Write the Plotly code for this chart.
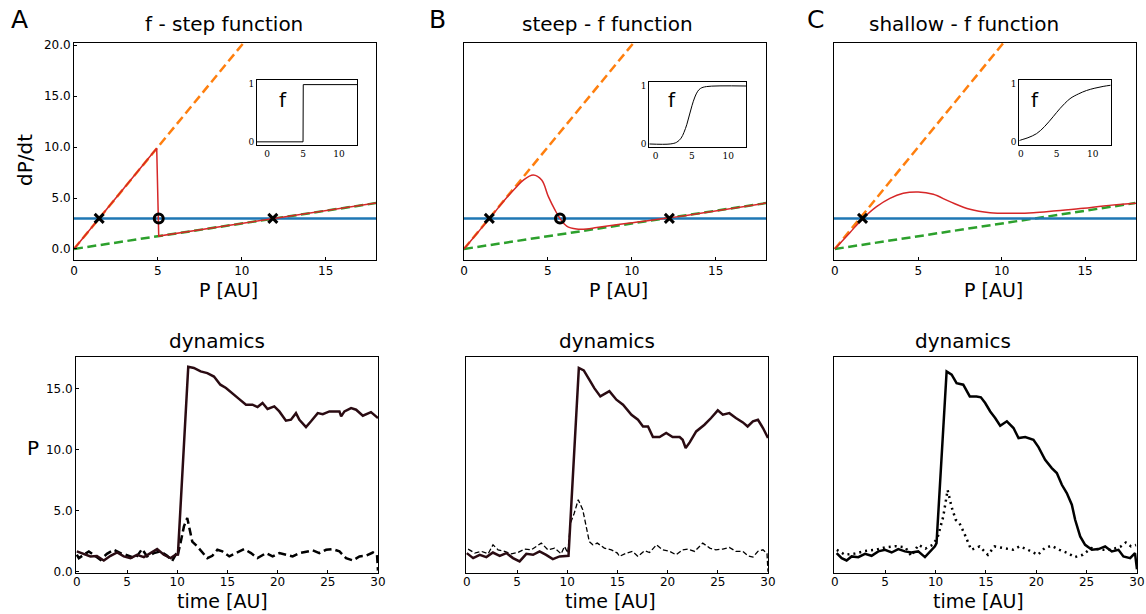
import plotly.graph_objects as go

# ---------------- data ----------------
# top row: phase-line panels, P [AU] vs dP/dt
orange_P = [0, 11]
orange_y = [0, 22]
green_P = [0, 18]
green_y = [0, 4.5]
blue_P = [-0.5, 18.5]
blue_y = [3, 3]

redA_P = [0, 4.93, 5.05, 18]
redA_y = [0, 9.87, 1.27, 4.5]
redB_P = [0, 1.55, 2.5, 3.14, 3.54, 4.13, 4.63, 5.03, 5.42, 5.72, 6.12, 6.71, 7.31, 7.91, 9.9, 12.24, 18]
redB_y = [0, 3.05, 4.95, 6.1, 6.76, 7.25, 6.76, 5.13, 3.83, 3.0, 2.25, 1.96, 1.96, 2.1, 2.55, 3.06, 4.5]
redC_P = [0, 0.9, 1.66, 2.5, 3.3, 4.1, 5.0, 5.9, 6.9, 8.1, 9.3, 10.5, 11.9, 13.3, 14.9, 16.1, 18.05]
redC_y = [0, 1.6, 2.95, 4.15, 4.97, 5.46, 5.59, 5.36, 4.64, 3.89, 3.56, 3.5, 3.56, 3.76, 3.99, 4.22, 4.48]

stableA_P = [1.5, 11.85]
unstableA_P = [5.05]
stableB_P = [1.51, 12.24]
unstableB_P = [5.72]
stableC_P = [1.66]
fixed_y = 3

# insets: f(P)
fA_P = [-1.4, 5.0, 5.03, 12.5]
fA_v = [0, 0, 0.99, 0.99]
fB_P = [-0.88, 2.0, 2.9, 3.5, 3.9, 4.3, 4.65, 5.0, 5.4, 5.8, 6.2, 7.0, 12.45]
fB_v = [0, 0, 0.03, 0.1, 0.2, 0.34, 0.5, 0.66, 0.81, 0.91, 0.96, 0.99, 1.0]
fC_P = [-0.2, 0, 1, 2.2, 3.3, 4.5, 5.45, 6.85, 8.0, 9.15, 10.3, 11.45, 12.5]
fC_v = [0.02, 0.03, 0.07, 0.14, 0.26, 0.43, 0.57, 0.74, 0.82, 0.88, 0.92, 0.95, 0.97]

# bottom row: dynamics, time [AU] vs P
dynA_t = [0, 0.7, 1.36, 2.0, 2.69, 3.36, 4.02, 4.68, 5.35, 6.0, 6.68, 7.34, 8.0, 8.67, 9.34, 9.84,
          10.07, 11.1, 11.66, 12.33, 13.0, 13.66, 14.3, 14.86, 15.52, 16.18, 16.85, 17.5, 18.0, 18.5,
          19.0, 19.67, 20.17, 20.83, 21.33, 21.83, 22.17, 22.83, 23.33, 24.0, 24.5, 25.16, 26.16,
          26.33, 26.66, 27.32, 27.82, 28.49, 29.3, 30.0]
dynA_P = [1.67, 1.48, 1.26, 1.3, 0.93, 1.31, 1.58, 1.26, 1.12, 1.39, 1.2, 1.53, 1.86, 1.39, 1.12, 1.39,
          1.4, 16.8, 16.7, 16.42, 16.28, 16.0, 15.33, 15.06, 14.64, 14.15, 13.69, 13.69, 13.5, 13.83,
          13.34, 13.55, 13.14, 12.38, 12.46, 13.0, 12.46, 11.86, 12.33, 13.0, 12.92, 13.14, 13.14,
          12.73, 13.14, 13.41, 13.28, 12.79, 13.08, 12.6]
dynA2_t = [0, 0.2, 1.2, 2.36, 3.0, 3.69, 4.35, 5.18, 5.85, 6.5, 7.0, 7.68, 8.34, 9.0, 9.5, 9.84,
           10.0, 10.33, 10.67, 11.0, 11.27, 11.5, 12.0, 12.5, 13.0, 13.5, 14.0, 14.5, 15.0,
           15.19, 15.85, 16.68, 17.35, 18.0, 18.85, 19.5, 20.17, 21.0, 21.5, 22.17, 22.83, 23.5,
           24.16, 24.83, 25.5, 26.16, 26.82, 27.5, 28.15, 28.8, 29.5, 29.9, 30.0]
dynA2_P = [1.4, 1.12, 1.67, 0.98, 1.47, 1.8, 1.53, 1.31, 1.12, 1.86, 1.26, 1.53, 1.67, 1.31, 0.9, 1.39,
           1.2, 2.35, 3.72, 4.4, 3.44, 2.48, 2.07, 1.58, 1.12, 1.31, 1.8, 1.67, 1.39,
           1.26, 1.53, 1.86, 1.53, 1.12, 1.53, 1.26, 1.53, 1.39, 1.26, 1.53, 1.67, 1.75,
           1.53, 1.8, 1.86, 1.67, 1.12, 0.93, 1.26, 1.31, 1.58, 1.4, 0.1]

dynB_t = [0, 0.63, 1.29, 1.95, 2.6, 3.28, 3.94, 4.6, 5.26, 5.93, 6.6, 7.25, 7.9, 8.57, 9.24, 9.9,
          10.13, 11.16, 11.65, 12.2, 12.7, 13.3, 14.2, 14.9, 15.56, 16.4, 17.05, 17.55, 18.05, 18.54,
          19.2, 19.86, 20.5, 21.2, 21.5, 21.8, 22.2, 22.85, 23.67, 24.33, 25.0, 25.5, 26.15, 26.8,
          27.5, 27.97, 28.5, 29.0, 29.5, 30.0]
dynB_P = [1.53, 1.12, 1.39, 1.2, 1.58, 1.31, 1.53, 1.12, 0.85, 1.47, 1.39, 1.67, 1.39, 1.04, 1.26, 1.26,
          1.31, 16.7, 16.5, 15.74, 15.05, 14.37, 14.8, 14.1, 13.69, 12.87, 12.46, 11.91, 11.91, 11.04,
          11.04, 11.37, 11.04, 11.04, 10.82, 10.14, 10.6, 11.5, 12.05, 12.6, 13.23, 12.87, 13.0, 12.6,
          12.24, 11.91, 12.33, 12.46, 11.78, 10.96]
dynB2_t = [0.13, 0.79, 1.46, 2.12, 2.61, 3.11, 3.77, 4.44, 5.1, 5.76, 6.42, 7.42, 8.08, 8.74, 9.4, 9.73,
           10.06, 10.33, 10.7, 11.1, 11.55, 11.9, 12.2, 12.55, 13.0, 13.7, 14.4, 15.0,
           15.2, 15.9, 16.5, 17.05, 17.7, 18.2, 18.9, 19.5, 20.2, 20.85, 21.5, 22.0, 22.7, 23.5,
           24.2, 24.8, 25.5, 26.15, 26.8, 27.5, 28.0, 28.5, 29.0, 29.5, 29.9, 30.0]
dynB2_P = [1.86, 1.53, 1.67, 1.47, 2.21, 1.8, 1.67, 1.47, 1.58, 1.86, 1.8, 2.35, 1.8, 1.94, 1.47, 2.08,
           1.53, 4.0, 4.8, 5.9, 5.08, 3.72, 2.48, 2.21, 2.35, 1.94, 1.8, 1.53,
           1.26, 1.53, 1.67, 1.26, 1.72, 1.58, 2.21, 1.8, 1.67, 1.39, 1.8, 1.86, 1.67, 2.35,
           1.94, 1.8, 1.86, 2.0, 1.67, 1.67, 1.31, 1.2, 1.67, 1.8, 1.5, 0.0]

dynC_t = [0.18, 0.68, 1.17, 1.67, 2.33, 3.0, 3.65, 4.32, 4.98, 5.64, 6.3, 6.96, 7.6, 8.28, 8.95, 9.44,
          9.94, 10.1, 11.1, 11.6, 12.09, 12.75, 13.4, 14.07, 14.5, 14.93, 15.43, 15.92, 16.42, 17.08,
          17.74, 18.24, 18.9, 19.72, 20.22, 20.88, 21.54, 22.04, 22.54, 23.03, 23.53, 23.86, 24.36,
          24.85, 25.52, 26.18, 26.84, 27.5, 28.16, 28.65, 29.32, 29.8, 30.0]
dynC_P = [1.53, 1.12, 0.93, 1.26, 1.2, 1.47, 1.31, 1.67, 1.8, 1.58, 1.86, 1.67, 1.58, 1.67, 1.2, 1.67,
          2.08, 2.35, 16.42, 16.15, 15.46, 15.33, 14.37, 14.37, 14.3, 13.83, 13.14, 12.6, 11.97, 12.33,
          11.78, 10.96, 11.04, 10.82, 10.22, 9.18, 8.5, 8.09, 7.13, 6.45, 5.5, 4.26, 2.9,
          2.21, 1.8, 1.86, 2.08, 1.67, 1.8, 1.26, 1.12, 1.53, 0.2]
dynC2_t = [0.2, 1.0, 2.0, 3.0, 4.0, 5.0, 6.0, 7.0, 7.6, 8.3, 9.0, 9.7, 10.2, 10.76, 11.2, 11.6, 12.0,
           12.38, 12.88, 13.54, 14.37, 15.2, 15.86, 16.85, 17.7, 18.35, 19.17, 20.16, 20.83, 21.5,
           22.3, 23.13, 23.8, 24.62, 25.45, 26.44, 27.43, 28.4, 28.9, 29.4, 29.9]
dynC2_P = [1.8, 1.4, 1.5, 1.7, 1.8, 2.0, 2.1, 2.0, 1.3, 2.2, 1.9, 2.2, 2.8, 4.5, 6.7, 5.3, 4.26,
           3.98, 3.1, 1.8, 2.08, 1.39, 2.08, 1.94, 1.8, 2.08, 1.8, 1.39, 1.94, 2.13,
           1.8, 1.53, 1.2, 1.39, 1.94, 1.8, 1.8, 2.08, 2.4, 2.08, 2.2]

top_titles = ["f - step function", "steep - f function", "shallow - f function"]
panel_letters = ["A", "B", "C"]
top_xticks = [0, 5, 10, 15]
top_yticks = [0, 5, 10, 15, 20]
bot_xticks = [0, 5, 10, 15, 20, 25, 30]
bot_yticks = [0, 5, 10, 15]
inset_xticks = [0, 5, 10]
inset_yticks = [0, 1]

# ---------------- layout helpers ----------------
W, H = 1146, 614
FONT = "DejaVu Sans"
ORANGE, GREEN, BLUE, RED = "#ff7f0e", "#2ca02c", "#1f77b4", "#d62728"
MAROON = "#2a0b12"


def fx(p):
    return p / W


def fy(p):
    return 1 - p / H


fig = go.Figure()


def line(x, y, ax, color, width, dash="solid", shape="linear"):
    fig.add_trace(go.Scatter(x=x, y=y, mode="lines", xaxis="x" + ax, yaxis="y" + ax,
                             line=dict(color=color, width=width, dash=dash, shape=shape),
                             hoverinfo="skip", showlegend=False))


def marks(x, y, ax, symbol):
    fig.add_trace(go.Scatter(x=x, y=y, mode="markers", xaxis="x" + ax, yaxis="y" + ax,
                             marker=dict(symbol=symbol, size=9, color="black",
                                         line=dict(color="black", width=3)),
                             hoverinfo="skip", showlegend=False))


dash_main = "9px,4.5px"

# top panels
tops = [("1", redA_P, redA_y, "linear", stableA_P, unstableA_P),
        ("2", redB_P, redB_y, "spline", stableB_P, unstableB_P),
        ("3", redC_P, redC_y, "spline", stableC_P, [])]
for ax, rp, ry, shp, st, un in tops:
    line(orange_P, orange_y, ax, ORANGE, 2.5, dash_main)
    line(green_P, green_y, ax, GREEN, 2.5, dash_main)
    line(blue_P, blue_y, ax, BLUE, 2.5)
    line(rp, ry, ax, RED, 1.5, shape=shp)
    marks(st, [fixed_y] * len(st), ax, "x-thin-open")
    if un:
        marks(un, [fixed_y] * len(un), ax, "circle-open")

# bottom panels
line(dynA2_t, dynA2_P, "4", "black", 2.5, "8px,4px")
line(dynA_t, dynA_P, "4", MAROON, 2.5)
line(dynB2_t, dynB2_P, "5", "black", 1.3, "5px,2.5px")
line(dynB_t, dynB_P, "5", MAROON, 2.5)
line(dynC2_t, dynC2_P, "6", "black", 2.5, "2px,4px")
line(dynC_t, dynC_P, "6", "black", 2.5)

# insets
line(fA_P, fA_v, "7", "black", 1)
line(fB_P, fB_v, "8", "black", 1, shape="spline")
line(fC_P, fC_v, "9", "black", 1, shape="spline")

# ---------------- axes ----------------
tickfont = dict(family=FONT, size=12, color="black")


def xax(domain, rng, anchor, ticks=None, show=True, inset=False, standoff=0):
    d = dict(domain=domain, range=rng, anchor=anchor, showgrid=False, zeroline=False,
             showline=True, linecolor="black", linewidth=1, mirror=True,
             fixedrange=True, automargin=False)
    if inset:
        d.update(tickvals=ticks, ticks="", showticklabels=True,
                 tickfont=dict(family="DejaVu Serif", size=9, color="black"))
    else:
        d.update(tickvals=ticks, ticks="inside" if ticks else "", ticklen=3, tickcolor="black",
                 showticklabels=show, tickfont=tickfont, ticklabelstandoff=standoff)
    return d


def yax(domain, rng, anchor, ticks=None, show=True, inset=False, fmt=".1f"):
    d = dict(domain=domain, range=rng, anchor=anchor, showgrid=False, zeroline=False,
             showline=True, linecolor="black", linewidth=1, mirror=True,
             fixedrange=True, automargin=False)
    if inset:
        d.update(tickvals=ticks, ticks="", showticklabels=True,
                 tickfont=dict(family="DejaVu Serif", size=9, color="black"))
    else:
        d.update(tickvals=ticks, ticks="inside" if ticks else "", ticklen=3, tickcolor="black",
                 showticklabels=show, tickfont=tickfont, tickformat=fmt)
    return d


top_y = [fy(260), fy(43)]
bot_y = [fy(573), fy(357)]
top_yr = [-1.08, 20.2]
bot_yr = [-0.1, 17.6]

layout = dict(
    width=W, height=H, margin=dict(l=0, r=0, t=0, b=0, autoexpand=False),
    paper_bgcolor="white", plot_bgcolor="white", showlegend=False,
    font=dict(family=FONT, color="black"),
    xaxis=xax([fx(74), fx(376)], [0, 18], "y", top_xticks),
    yaxis=yax(top_y, top_yr, "x", top_yticks),
    xaxis2=xax([fx(464), fx(766)], [0, 18], "y2", top_xticks),
    yaxis2=yax(top_y, top_yr, "x2", None, False),
    xaxis3=xax([fx(834), fx(1136)], [-0.05, 18.05], "y3", top_xticks),
    yaxis3=yax(top_y, top_yr, "x3", None, False),
    xaxis4=xax([fx(76), fx(378)], [-0.08, 30], "y4", bot_xticks, standoff=-2),
    yaxis4=yax(bot_y, bot_yr, "x4", bot_yticks),
    xaxis5=xax([fx(466), fx(768)], [-0.08, 30], "y5", bot_xticks, standoff=-2),
    yaxis5=yax(bot_y, bot_yr, "x5", None, False),
    xaxis6=xax([fx(834), fx(1137)], [-0.08, 30], "y6", bot_xticks, standoff=-2),
    yaxis6=yax(bot_y, bot_yr, "x6", None, False),
    xaxis7=xax([fx(257), fx(357)], [-1.4, 12.5], "y7", inset_xticks, inset=True),
    yaxis7=yax([fy(145.3), fy(80)], [-0.06, 1.07], "x7", inset_yticks, inset=True),
    xaxis8=xax([fx(649.3), fx(746)], [-0.88, 12.45], "y8", inset_xticks, inset=True),
    yaxis8=yax([fy(146.7), fy(82.3)], [-0.047, 1.064], "x8", inset_yticks, inset=True),
    xaxis9=xax([fx(1019.3), fx(1110.7)], [-0.2, 12.5], "y9", inset_xticks, inset=True),
    yaxis9=yax([fy(145.3), fy(80)], [-0.06, 1.06], "x9", inset_yticks, inset=True),
)

ann = []


def txt(s, x, y, size=20, angle=0, family=FONT):
    ann.append(dict(text=s, x=fx(x), y=fy(y), xref="paper", yref="paper",
                    xanchor="center", yanchor="middle", showarrow=False, textangle=angle,
                    font=dict(family=family, size=size, color="black")))


for s, x in zip(panel_letters, [19, 437, 815]):
    txt(s, x, 19, 25)
for s, x in zip(top_titles, [224, 607, 964]):
    txt(s, x, 24, 20)
for x in [217, 607, 963]:
    txt("dynamics", x, 341, 20)
for x in [228, 618, 993]:
    txt("P [AU]", x, 290, 19)
for x in [222, 610, 979]:
    txt("time [AU]", x, 601, 19)
txt("dP/dt", 25, 160, 20, -90)
txt("P", 33, 448, 20)
for x in [283, 672, 1035]:
    txt("f", x, 100, 20)

layout["annotations"] = ann
fig.update_layout(**layout)
fig.write_html("out.html", config={"displayModeBar": False},
               post_script="document.body.style.margin='0px';document.body.style.overflow='hidden';")
